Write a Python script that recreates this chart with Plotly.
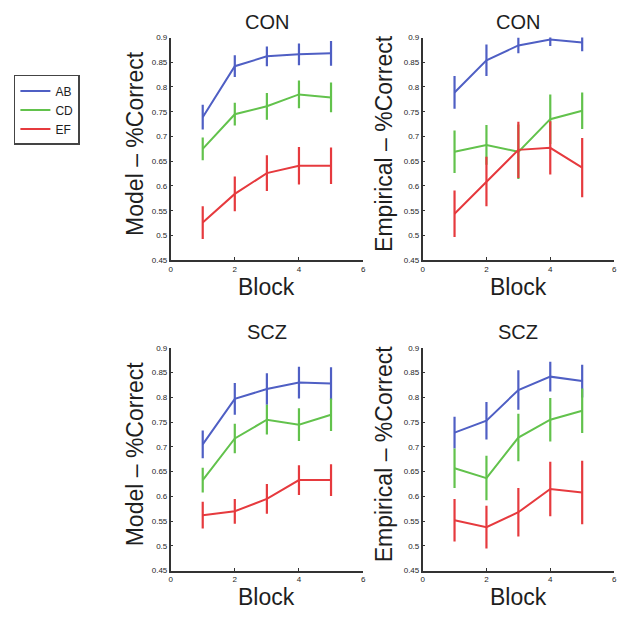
import plotly.graph_objects as go

blocks = [1, 2, 3, 4, 5]
series_names = ["AB", "CD", "EF"]
colors = ["#4f5fc4", "#62c24c", "#e63a3e"]

# Model - CON
model_con_ab = [0.739, 0.842, 0.862, 0.866, 0.868]
model_con_ab_err = [0.025, 0.022, 0.020, 0.022, 0.025]
model_con_cd = [0.675, 0.745, 0.761, 0.785, 0.779]
model_con_cd_err = [0.023, 0.023, 0.027, 0.028, 0.030]
model_con_ef = [0.526, 0.584, 0.626, 0.641, 0.641]
model_con_ef_err = [0.033, 0.035, 0.036, 0.038, 0.037]

# Empirical - CON
emp_con_ab = [0.789, 0.854, 0.884, 0.896, 0.890]
emp_con_ab_err = [0.033, 0.032, 0.016, 0.013, 0.018]
emp_con_cd = [0.669, 0.683, 0.669, 0.735, 0.752]
emp_con_cd_err = [0.043, 0.040, 0.055, 0.050, 0.037]
emp_con_ef = [0.544, 0.609, 0.673, 0.677, 0.637]
emp_con_ef_err = [0.047, 0.050, 0.057, 0.054, 0.060]

# Model - SCZ
model_scz_ab = [0.705, 0.797, 0.817, 0.830, 0.828]
model_scz_ab_err = [0.028, 0.032, 0.032, 0.032, 0.033]
model_scz_cd = [0.633, 0.717, 0.755, 0.745, 0.765]
model_scz_cd_err = [0.025, 0.030, 0.030, 0.033, 0.033]
model_scz_ef = [0.562, 0.570, 0.595, 0.633, 0.633]
model_scz_ef_err = [0.027, 0.025, 0.030, 0.030, 0.032]

# Empirical - SCZ
emp_scz_ab = [0.729, 0.753, 0.815, 0.842, 0.833]
emp_scz_ab_err = [0.032, 0.038, 0.040, 0.030, 0.033]
emp_scz_cd = [0.657, 0.637, 0.719, 0.755, 0.773]
emp_scz_cd_err = [0.040, 0.045, 0.048, 0.044, 0.045]
emp_scz_ef = [0.552, 0.538, 0.568, 0.615, 0.608]
emp_scz_ef_err = [0.043, 0.043, 0.049, 0.055, 0.064]

panel_titles = ["CON", "CON", "SCZ", "SCZ"]
y_titles = ["Model \u2013 %Correct", "Empirical \u2013 %Correct",
            "Model \u2013 %Correct", "Empirical \u2013 %Correct"]
x_title = "Block"
x_tick_vals = [0, 2, 4, 6]
x_tick_text = ["0", "2", "4", "6"]
y_tick_vals = [0.45, 0.5, 0.55, 0.6, 0.65, 0.7, 0.75, 0.8, 0.85, 0.9]
y_tick_text = ["0.45", "0.5", "0.55", "0.6", "0.65", "0.7", "0.75", "0.8", "0.85", "0.9"]

panels = [
    ([model_con_ab, model_con_cd, model_con_ef],
     [model_con_ab_err, model_con_cd_err, model_con_ef_err]),
    ([emp_con_ab, emp_con_cd, emp_con_ef],
     [emp_con_ab_err, emp_con_cd_err, emp_con_ef_err]),
    ([model_scz_ab, model_scz_cd, model_scz_ef],
     [model_scz_ab_err, model_scz_cd_err, model_scz_ef_err]),
    ([emp_scz_ab, emp_scz_cd, emp_scz_ef],
     [emp_scz_ab_err, emp_scz_cd_err, emp_scz_ef_err]),
]

W, H = 629, 620
# pixel geometry of the axes boxes (left, right, top, bottom)
boxes = [
    (170, 364, 34, 260),
    (424, 617, 34, 260),
    (170, 364, 349, 575),
    (424, 617, 349, 575),
]

FONT = "Liberation Sans, Arial, sans-serif"
TXT = "#1e1e1e"

fig = go.Figure()
layout = dict()
annotations = []

for i, (vals, errs) in enumerate(panels):
    ax = "" if i == 0 else str(i + 1)
    for s in range(3):
        fig.add_trace(go.Scatter(
            x=blocks, y=vals[s], mode="lines",
            name=series_names[s],
            line=dict(color=colors[s], width=2),
            error_y=dict(type="data", array=errs[s], visible=True,
                         color=colors[s], thickness=2.2, width=0),
            xaxis="x" + ax, yaxis="y" + ax,
            showlegend=(i == 0),
        ))
    l, r, t, b = boxes[i]
    layout["xaxis" + ax] = dict(
        domain=[l / W, r / W], anchor="y" + ax, range=[0, 6],
        tickvals=x_tick_vals, ticktext=x_tick_text,
        showline=True, linecolor="#333333", linewidth=1.5,
        ticks="inside", ticklen=3, tickcolor="#333333",
        showgrid=False, zeroline=False,
        tickfont=dict(family=FONT, size=8, color=TXT),
    )
    layout["yaxis" + ax] = dict(
        domain=[(H - b) / H, (H - t) / H], anchor="x" + ax, range=[0.45, 0.9],
        tickvals=y_tick_vals, ticktext=y_tick_text,
        showline=True, linecolor="#333333", linewidth=1.5,
        ticks="inside", ticklen=3, tickcolor="#333333",
        showgrid=False, zeroline=False,
        tickfont=dict(family=FONT, size=8, color=TXT),
    )
    cx = (l + r) / 2
    annotations.append(dict(
        text=panel_titles[i], x=cx / W, y=(H - (t - 16)) / H,
        xref="paper", yref="paper", xanchor="center", yanchor="middle",
        showarrow=False, font=dict(family=FONT, size=20, color=TXT)))
    annotations.append(dict(
        text=x_title, x=cx / W, y=(H - (b + 27)) / H,
        xref="paper", yref="paper", xanchor="center", yanchor="middle",
        showarrow=False, font=dict(family=FONT, size=23, color=TXT)))
    ytx = l - 36 if i % 2 == 0 else l - 39
    annotations.append(dict(
        text=y_titles[i], x=ytx / W, y=(H - (t + b) / 2 + 6) / H,
        xref="paper", yref="paper", xanchor="center", yanchor="middle",
        textangle=-90,
        showarrow=False, font=dict(family=FONT, size=23, color=TXT)))

fig.update_layout(
    **layout,
    annotations=annotations,
    width=W, height=H,
    margin=dict(l=0, r=0, t=0, b=0),
    paper_bgcolor="white", plot_bgcolor="white",
    showlegend=True,
    legend=dict(x=12 / W, y=(H - 72) / H, xanchor="left", yanchor="top",
                bordercolor="#444444", borderwidth=1.5, bgcolor="white",
                font=dict(family=FONT, size=12, color=TXT),
                tracegroupgap=0, itemwidth=30),
)

fig.write_html("out.html",
               config={"displayModeBar": False},
               post_script="document.body.style.margin='0px';document.body.style.padding='0px';")
